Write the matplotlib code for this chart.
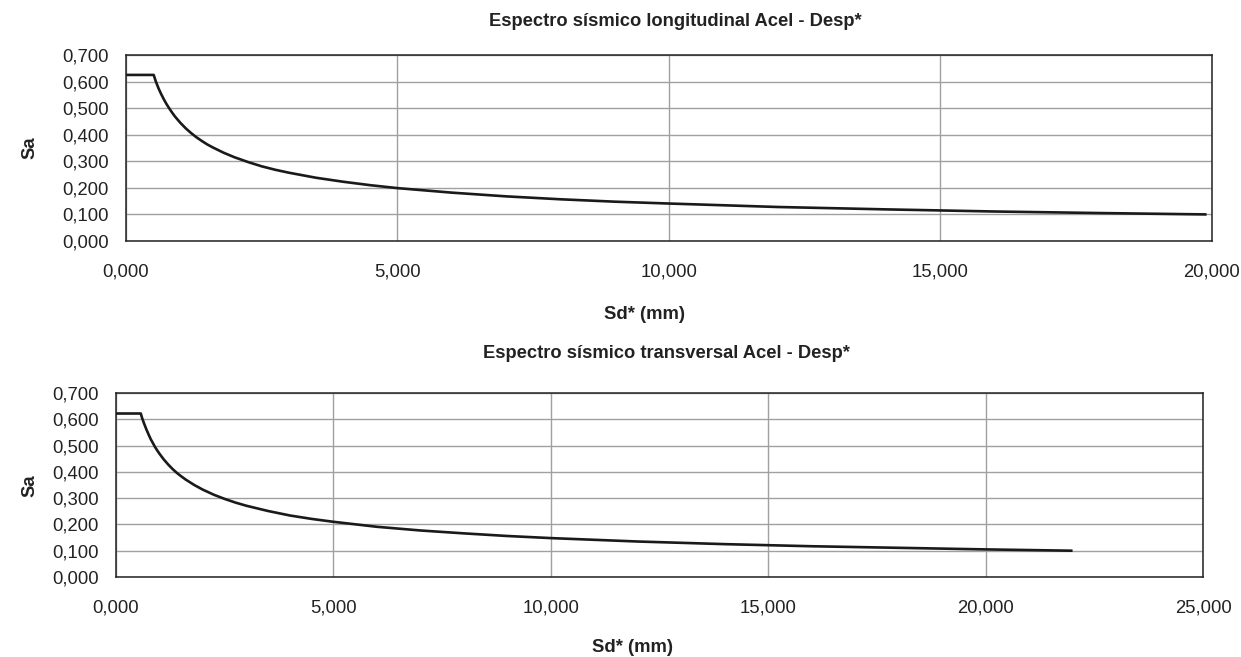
import matplotlib
matplotlib.use("Agg")
import matplotlib.pyplot as plt
from matplotlib.ticker import FuncFormatter, MultipleLocator

plt.rcParams['font.family'] = ['Liberation Sans', 'DejaVu Sans']

# Longitudinal spectrum: Sd* (mm) vs Sa
sd_long = [0.0, 0.51, 0.55, 0.60, 0.65, 0.70, 0.75, 0.80, 0.85, 0.90, 0.95, 1.0,
           1.1, 1.2, 1.3, 1.4, 1.5, 1.6, 1.8, 2.0, 2.25, 2.5, 2.75, 3.0, 3.5,
           4.0, 4.5, 5.0, 6.0, 7.0, 8.0, 9.0, 10.0, 12.0, 14.0, 16.0, 18.0, 19.9]
sa_long = [0.625, 0.625, 0.600, 0.574, 0.552, 0.532, 0.514, 0.498, 0.483, 0.469,
           0.457, 0.445, 0.424, 0.406, 0.390, 0.376, 0.363, 0.352, 0.332, 0.315,
           0.297, 0.281, 0.268, 0.257, 0.238, 0.223, 0.210, 0.199, 0.182, 0.168,
           0.157, 0.148, 0.141, 0.128, 0.119, 0.111, 0.105, 0.100]

# Transversal spectrum
sd_trans = [0.0, 0.57, 0.60, 0.65, 0.70, 0.75, 0.80, 0.85, 0.90, 0.95, 1.0, 1.1,
            1.2, 1.3, 1.4, 1.5, 1.6, 1.8, 2.0, 2.25, 2.5, 2.75, 3.0, 3.5, 4.0,
            4.5, 5.0, 6.0, 7.0, 8.0, 9.0, 10.0, 12.0, 14.0, 16.0, 18.0, 20.0, 22.0]
sa_trans = [0.622, 0.622, 0.605, 0.582, 0.561, 0.542, 0.524, 0.509, 0.494, 0.481,
            0.469, 0.447, 0.428, 0.411, 0.396, 0.383, 0.371, 0.350, 0.332, 0.313,
            0.297, 0.283, 0.271, 0.251, 0.234, 0.221, 0.210, 0.191, 0.177, 0.166,
            0.156, 0.148, 0.135, 0.125, 0.117, 0.111, 0.105, 0.100]

titles = ["Espectro sísmico longitudinal Acel - Desp*",
          "Espectro sísmico transversal Acel - Desp*"]
x_label = "Sd* (mm)"
y_label = "Sa"
x_limits = [20.0, 25.0]

W, H = 1241, 657
fig = plt.figure(figsize=(W / 100, H / 100), dpi=100)


def fmt_axis(v, pos):
    return f"{v:.3f}".replace(".", ",")


panels = [
    dict(rect=(126, 55, 1212, 241), sd=sd_long, sa=sa_long, xmax=x_limits[0],
         title=titles[0], title_xy=(675, 21), xlabel_xy=(644, 315), ylabel_xy=(30, 148)),
    dict(rect=(116, 393, 1203, 577), sd=sd_trans, sa=sa_trans, xmax=x_limits[1],
         title=titles[1], title_xy=(666, 353), xlabel_xy=(633, 647), ylabel_xy=(30, 486)),
]

text_color = "#222222"

for p in panels:
    x0, y0, x1, y1 = p["rect"]
    ax = fig.add_axes([x0 / W, 1 - y1 / H, (x1 - x0) / W, (y1 - y0) / H])
    ax.plot(p["sd"], p["sa"], color="#1a1a1a", lw=1.9,
            solid_joinstyle="round", solid_capstyle="butt")
    ax.set_xlim(0, p["xmax"])
    ax.set_ylim(0, 0.7)
    ax.xaxis.set_major_locator(MultipleLocator(5))
    ax.yaxis.set_major_locator(MultipleLocator(0.1))
    ax.xaxis.set_major_formatter(FuncFormatter(fmt_axis))
    ax.yaxis.set_major_formatter(FuncFormatter(fmt_axis))
    ax.grid(True, color="#a0a0a0", lw=1.0)
    ax.set_axisbelow(True)
    ax.tick_params(length=0, labelsize=13.3, colors=text_color)
    ax.tick_params(axis="x", pad=16)
    ax.tick_params(axis="y", pad=12.5)
    for s in ax.spines.values():
        s.set_color(text_color)
        s.set_linewidth(1.1)
    tx, ty = p["title_xy"]
    fig.text(tx / W, 1 - ty / H, p["title"], ha="center", va="center",
             fontsize=13.2, fontweight="bold", color=text_color)
    lx, ly = p["xlabel_xy"]
    fig.text(lx / W, 1 - ly / H, x_label, ha="center", va="center",
             fontsize=13.3, fontweight="bold", color=text_color)
    yx, yy = p["ylabel_xy"]
    fig.text(yx / W, 1 - yy / H, y_label, ha="center", va="center", rotation=90,
             fontsize=13.3, fontweight="bold", color=text_color)

fig.savefig("out.png", dpi=100)
